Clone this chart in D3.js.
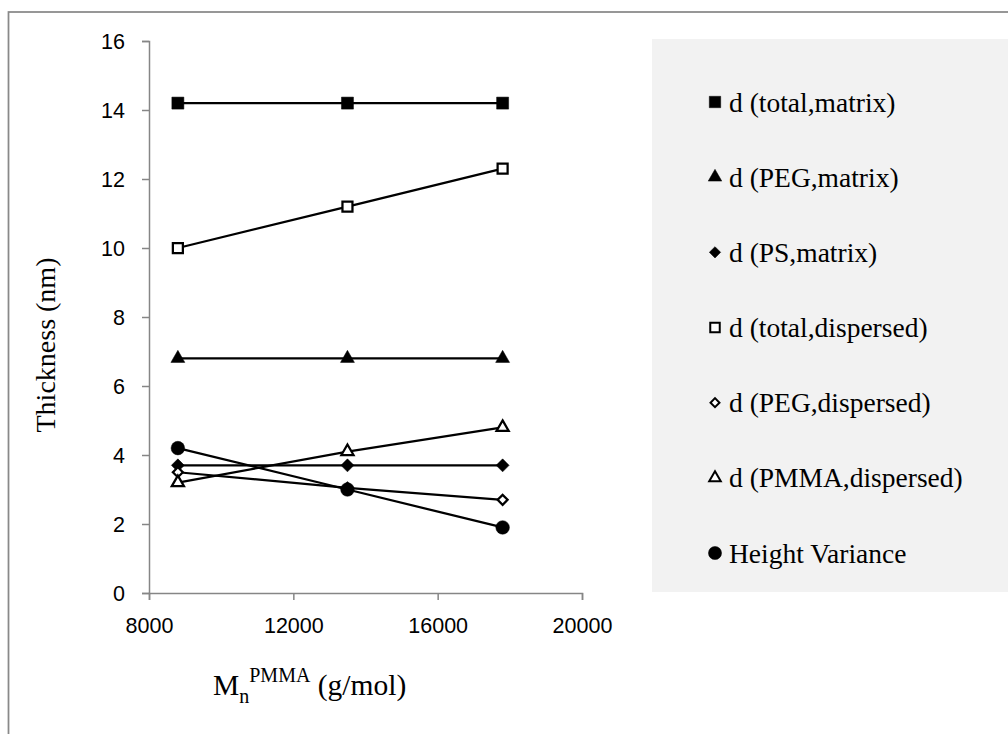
<!DOCTYPE html>
<html lang="en">
	<head>
		<meta charset="utf-8">
		<title>Thickness vs Mn PMMA</title>
		<script type="text/javascript" src="https://d3js.org/d3.v7.min.js"></script>
		<style type="text/css">
			body { margin: 0; background: #fff; }
			.tick text { font-family: "Liberation Sans", Arial, sans-serif; font-size: 21.5px; fill: #000; }
			.serif { font-family: "Liberation Serif", "Times New Roman", serif; fill: #000; }
		</style>
	</head>
	<body>
		<script type="text/javascript">

			//Data
			var mn = [8800, 13500, 17800];
			var totalMatrix = [14.2, 14.2, 14.2];
			var pegMatrix = [6.8, 6.8, 6.8];
			var psMatrix = [3.7, 3.7, 3.7];
			var totalDispersed = [10.0, 11.2, 12.3];
			var pegDispersed = [3.5, 3.05, 2.7];
			var pmmaDispersed = [3.2, 4.1, 4.8];
			var heightVariance = [4.2, 3.0, 1.9];

			var seriesNames = ["d (total,matrix)", "d (PEG,matrix)", "d (PS,matrix)", "d (total,dispersed)",
			                   "d (PEG,dispersed)", "d (PMMA,dispersed)", "Height Variance"];
			var xTicks = [8000, 12000, 16000, 20000];
			var yTicks = [0, 2, 4, 6, 8, 10, 12, 14, 16];

			var series = [
				{ name: seriesNames[0], values: totalMatrix,    shape: "square",   open: false },
				{ name: seriesNames[1], values: pegMatrix,      shape: "triangle", open: false },
				{ name: seriesNames[2], values: psMatrix,       shape: "diamond",  open: false },
				{ name: seriesNames[3], values: totalDispersed, shape: "square",   open: true },
				{ name: seriesNames[4], values: pegDispersed,   shape: "diamond",  open: true },
				{ name: seriesNames[5], values: pmmaDispersed,  shape: "triangle", open: true },
				{ name: seriesNames[6], values: heightVariance, shape: "circle",   open: false }
			];

			var w = 1008;
			var h = 734;

			var svg = d3.select("body")
						.append("svg")
						.attr("width", w)
						.attr("height", h);

			//outer chart border
			svg.append("rect")
				.attr("x", 8.5).attr("y", 12)
				.attr("width", 1100).attr("height", 800)
				.attr("fill", "none")
				.attr("stroke", "#898989")
				.attr("stroke-width", 1.75);

			//scales
			var xScale = d3.scaleLinear().domain([8000, 20000]).range([149, 582]);
			var yScale = d3.scaleLinear().domain([0, 16]).range([593, 41]);

			//axes
			var xAxis = d3.axisBottom(xScale).tickValues(xTicks).tickSize(7).tickPadding(18).tickFormat(d3.format("d"));
			var yAxis = d3.axisLeft(yScale).tickValues(yTicks).tickSize(7).tickPadding(17);

			var gx = svg.append("g")
				.attr("class", "Xaxis")
				.attr("transform", "translate(0," + yScale(0) + ")")
				.call(xAxis);
			var gy = svg.append("g")
				.attr("class", "Yaxis")
				.attr("transform", "translate(" + xScale(8000) + ",0)")
				.call(yAxis);

			[gx, gy].forEach(function(g) {
				g.select(".domain").attr("stroke", "#868686").attr("stroke-width", 1.5);
				g.selectAll(".tick line").attr("stroke", "#868686").attr("stroke-width", 1.5);
			});
			gy.selectAll(".tick text").attr("dy", "0.35em");

			//symbols
			function symbolPath(shape, open) {
				if (shape === "square") return d3.symbol().type(d3.symbolSquare).size(open ? 100 : 144)();
				if (shape === "triangle") return d3.symbol().type(d3.symbolTriangle).size(open ? 64 : 84)();
				if (shape === "diamond") return d3.symbol().type(d3.symbolSquare).size(open ? 50 : 84)();
				return d3.symbol().type(d3.symbolCircle).size(145)();
			}

			var line = d3.line()
				.x(function(d, i) { return xScale(mn[i]); })
				.y(function(d) { return yScale(d); });

			//lines
			svg.selectAll("path.series")
				.data(series)
				.enter()
				.append("path")
				.attr("class", "series")
				.attr("d", function(s) { return line(s.values); })
				.attr("fill", "none")
				.attr("stroke", "#000")
				.attr("stroke-width", 2.25);

			//markers
			series.forEach(function(s) {
				svg.selectAll(null)
					.data(s.values)
					.enter()
					.append("path")
					.attr("d", symbolPath(s.shape, s.open))
					.attr("transform", function(d, i) {
						return "translate(" + xScale(mn[i]) + "," + yScale(d) + ")" + (s.shape === "diamond" ? " rotate(45)" : "");
					})
					.attr("fill", s.open ? "#fff" : "#000")
					.attr("stroke", "#000")
					.attr("stroke-width", s.open ? 2.25 : 0.5);
			});

			//legend
			svg.append("rect")
				.attr("x", 652).attr("y", 39)
				.attr("width", 400).attr("height", 553)
				.attr("fill", "#f2f2f2");

			var legendY = d3.scalePoint().domain(seriesNames).range([102, 553]);

			var leg = svg.selectAll("g.legend")
				.data(series)
				.enter()
				.append("g")
				.attr("class", "legend")
				.attr("transform", function(s) { return "translate(715," + legendY(s.name) + ")"; });

			leg.append("path")
				.attr("d", function(s) {
					if (s.shape === "square") return d3.symbol().type(d3.symbolSquare).size(s.open ? 90 : 130)();
					if (s.shape === "triangle") return d3.symbol().type(d3.symbolTriangle).size(s.open ? 58 : 80)();
					if (s.shape === "diamond") return d3.symbol().type(d3.symbolSquare).size(s.open ? 40 : 64)();
					return d3.symbol().type(d3.symbolCircle).size(135)();
				})
				.attr("transform", function(s) { return s.shape === "diamond" ? "rotate(45)" : null; })
				.attr("fill", function(s) { return s.open ? "#fff" : "#000"; })
				.attr("stroke", "#000")
				.attr("stroke-width", function(s) { return s.open ? 2 : 0.5; });

			leg.append("text")
				.attr("class", "serif")
				.attr("x", 14)
				.attr("y", 9.5)
				.attr("font-size", "27.5px")
				.text(function(s) { return s.name; });

			//axis titles
			svg.append("text")
				.attr("class", "serif")
				.attr("transform", "translate(55,345) rotate(-90)")
				.attr("text-anchor", "middle")
				.attr("font-size", "28px")
				.text("Thickness (nm)");

			var xt = svg.append("text")
				.attr("class", "serif")
				.attr("x", 213)
				.attr("y", 695)
				.attr("font-size", "29.5px");
			xt.append("tspan").text("M");
			xt.append("tspan").attr("font-size", "20px").attr("dy", 8).text("n");
			xt.append("tspan").attr("font-size", "20px").attr("dy", -21).text("PMMA");
			xt.append("tspan").attr("dy", 13).text(" (g/mol)");

		</script>
	</body>
</html>
